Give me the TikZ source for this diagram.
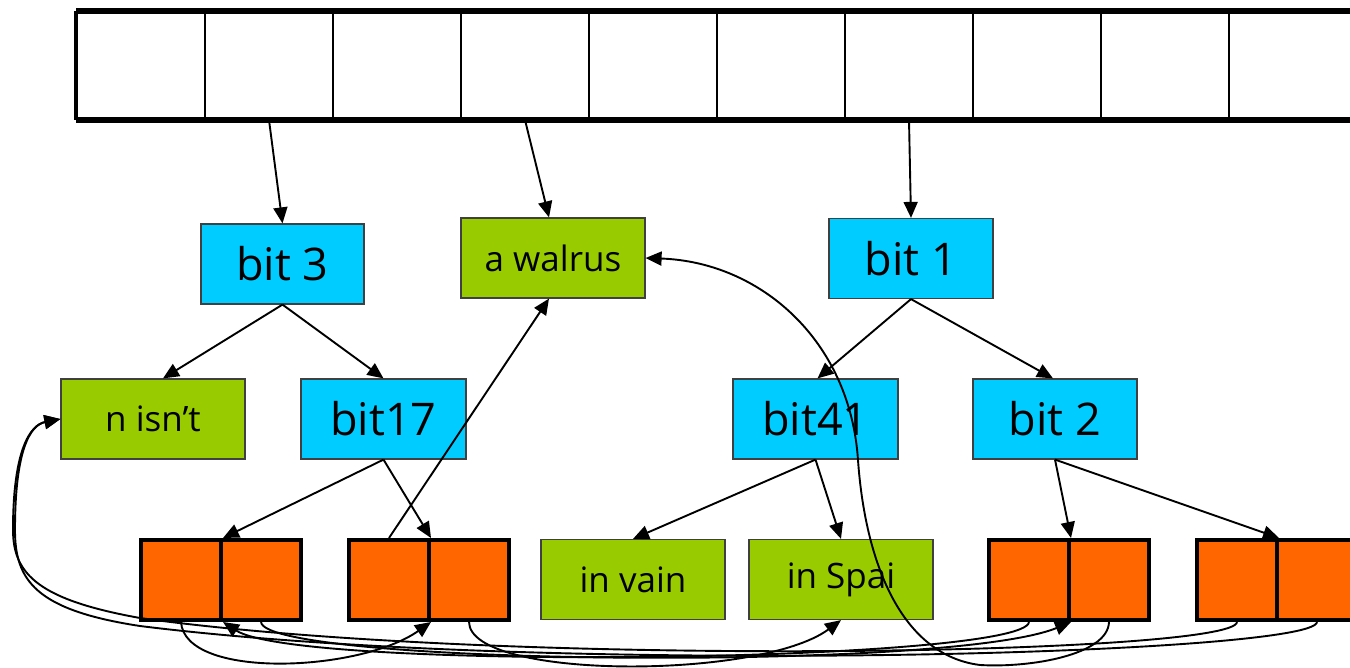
\documentclass[tikz,border=0pt]{standalone}
\usepackage{fontspec}
\setmainfont{Open Sans}
\usetikzlibrary{arrows.meta}
\definecolor{cyanc}{RGB}{0,204,255}
\definecolor{greenc}{RGB}{153,204,0}
\definecolor{orangec}{RGB}{255,102,0}
\begin{document}
\begin{tikzpicture}[x=0.5pt,y=-0.5pt,
  arr/.style={line width=0.95pt,-{Triangle[length=8pt,width=7pt]}},
  bluebox/.style={draw=black!75,line width=0.6pt,fill=cyanc,minimum height=40pt,inner sep=0pt,font=\fontsize{22.5}{27}\selectfont},
  greenbox/.style={draw=black!75,line width=0.6pt,fill=greenc,minimum height=40pt,minimum width=92pt,inner sep=0pt,font=\fontsize{17.5}{21}\selectfont},
  ocell/.style={draw=black,line width=2pt,fill=orangec,minimum width=40pt,minimum height=40pt,inner sep=0pt},
  acell/.style={draw=black,line width=1pt,minimum width=64pt,minimum height=53.5pt,inner sep=0pt}]
\useasboundingbox (0,0) rectangle (1350,668);
\clip (0,0) rectangle (1350,668);
% array
\foreach \i in {1,...,10} \node[acell] (c\i) at ({77+128*(\i-1)+64},65.5) {};
\draw[line width=2.75pt] (c1.north west) -- (c10.north east);
\draw[line width=2.75pt] (c1.south west) -- (c10.south east);
\draw[line width=2.2pt] (c1.north west) -- (c1.south west);
% tree nodes
\node[bluebox,minimum width=81.5pt] (b3) at (282.5,264) {bit 3};
\node[greenbox] (wal) at (553,258) {a walrus};
\node[bluebox,minimum width=82pt] (b1) at (911,258.5) {bit 1};
\node[greenbox] (ni) at (153,419) {n isn’t};
\node[bluebox,minimum width=82.5pt] (b17) at (383.5,419) {bit17};
\node[bluebox,minimum width=82.5pt] (b41) at (815.5,419) {bit41};
\node[bluebox,minimum width=82pt] (b2) at (1055,419) {bit 2};
\node[greenbox] (vain) at (633,579.5) {in vain};
\node[greenbox] (spai) at (841,579.5) {in Spai};
% orange pairs
\node[ocell] (p1a) at (181,580) {};
\node[ocell] (p1b) at (261,580) {};
\node[ocell] (p2a) at (389,580) {};
\node[ocell] (p2b) at (469,580) {};
\node[ocell] (p3a) at (1029,580) {};
\node[ocell] (p3b) at (1109,580) {};
\node[ocell] (p4a) at (1237,580) {};
\node[ocell] (p4b) at (1317,580) {};
% straight connectors
\draw[arr] (c2.south) -- (b3.north);
\draw[arr] (c4.south) -- ([xshift=-2pt]wal.north);
\draw[arr] (c7.south) -- (b1.north);
\draw[arr] (b3.south) -- ([xshift=5pt]ni.north);
\draw[arr] (b3.south) -- (b17.north);
\draw[arr] (b1.south) -- ([xshift=1pt]b41.north);
\draw[arr] (b1.south) -- ([xshift=-1pt]b2.north);
\draw[arr] (b17.south) -- (p1a.north east);
\draw[arr] (b17.south) -- (p2a.north east);
\draw[arr] (b41.south) -- (vain.north);
\draw[arr] (b41.south) -- (spai.north);
\draw[arr] (b2.south) -- (p3a.north east);
\draw[arr] (b2.south) -- (p4a.north east);
\draw[arr] (p2a.north) -- ([xshift=-2pt]wal.south);
% curved connectors
\draw[arr] (p1a.south) .. controls (185,680) and (360,672) .. (p2a.south east);
\draw[arr] (p2b.south) .. controls (470,680) and (760,680) .. (spai.south);
\draw[arr] (p3b.south) .. controls (1108,655) and (1030,668) .. (980,665)
  .. controls (900,655) and (865,560) .. (858,460)
  .. controls (850,340) and (760,262) .. (wal.east);
\draw[arr] (p1b.south) .. controls (265,665) and (950,672) .. (p3a.south east);
\draw[arr] (p3a.south) .. controls (1025,662) and (300,672) .. (p1a.south east);
\draw[arr] (p4a.south) .. controls (1235,655) and (500,668) .. (140,618)
  .. controls (40,600) and (13,575) .. (13,530)
  .. controls (13,450) and (30,425) .. (ni.west);
\draw[arr] (p4b.south) .. controls (1315,655) and (540,676) .. (140,626)
  .. controls (35,610) and (15,580) .. (15,530)
  .. controls (15,450) and (30,425) .. (ni.west);
\end{tikzpicture}
\end{document}
